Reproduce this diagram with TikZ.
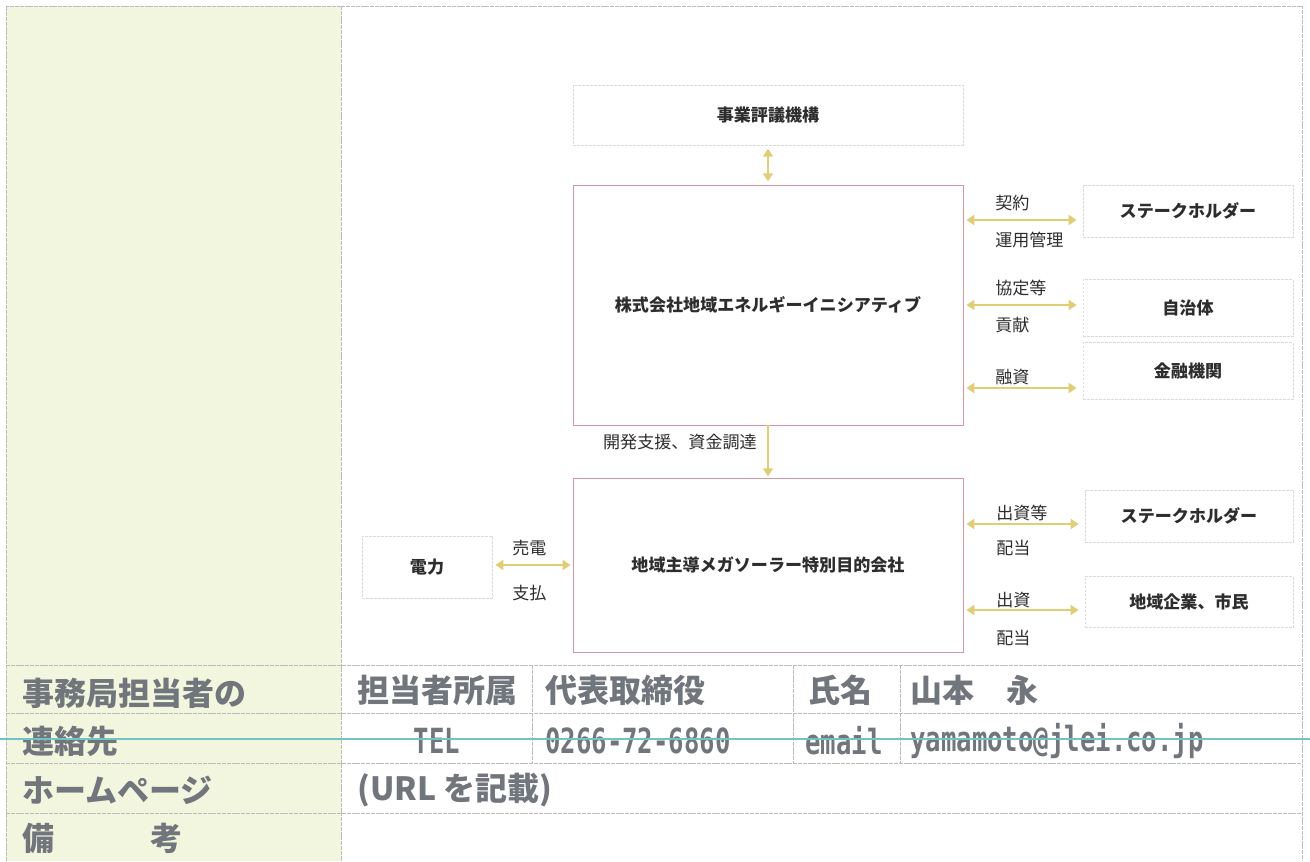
\documentclass[tikz,border=0pt]{standalone}
\usepackage{fontspec}
\setmainfont{Noto Sans CJK JP}
\newfontfamily\halfmono{DejaVu Sans Mono}[FakeStretch=0.74]
\usepackage{tikz}
\usetikzlibrary{calc,arrows.meta}
\definecolor{diagtext}{RGB}{45,45,45}
\definecolor{celltext}{RGB}{112,118,124}
\definecolor{arrowc}{RGB}{224,206,118}
\definecolor{mainline}{RGB}{214,150,162}
\definecolor{boxline}{RGB}{218,218,218}
\definecolor{tblline}{RGB}{188,188,188}
\definecolor{leftfill}{RGB}{243,246,222}
\definecolor{scanteal}{RGB}{112,196,196}
\tikzset{
box/.style={draw=boxline, line width=0.6pt, dash pattern=on 2pt off 1pt, inner sep=0pt, text=diagtext, font=\fontsize{12.8}{15}\selectfont\bfseries}, % side boxes
mainbox/.style={box, draw=mainline, solid}, % the two company boxes
lbl/.style={anchor=west, inner sep=0pt, text=diagtext, font=\fontsize{12.8}{15}\selectfont}, % arrow texts
link/.style={draw=arrowc, line width=2pt, {Triangle[width=7.5pt,length=6pt]}-{Triangle[width=7.5pt,length=6pt]}},
onelink/.style={draw=arrowc, line width=2pt, -{Triangle[width=7.5pt,length=6pt]}},
}
\tikzset{
    cell/.style={anchor=west, inner sep=0pt, text=celltext, font=\fontsize{24}{28}\selectfont\bfseries},
    monocell/.style={cell, font=\fontsize{26}{30}\selectfont\halfmono\bfseries},
    tblrule/.style={draw=tblline, line width=0.7pt, dash pattern=on 3pt off 0.6pt}
}
\begin{document}
\begin{tikzpicture}[x=0.75pt,y=0.75pt,yscale=-1,xscale=1]
		\useasboundingbox (0,0) rectangle (1310,861);
		
		% Table
		\fill [leftfill] (6,6) rectangle (341,861);
		\draw [tblrule] (6,861) -- (6,6) -- (1302,6) -- (1302,861);
		\draw [tblrule] (341,6) -- (341,861);
		\foreach \y in {665,713,763,813}
		\draw [tblrule] (6,\y) -- (1302,\y);
		\foreach \x in {532,793,900}
		\draw [tblrule] (\x,665) -- (\x,763);
		
		% Text Node
		\node [box] (hyougi) at (768,115) [minimum width=292.5pt, minimum height=45pt] {事業評議機構};
		% Text Node
		\node [mainbox] (jlei) at (768,305) [minimum width=292.5pt, minimum height=180pt] {株式会社地域エネルギーイニシアティブ};
		% Text Node
		\node [mainbox] (spc) at (768,565) [minimum width=292.5pt, minimum height=130.5pt] {地域主導メガソーラー特別目的会社};
		% Text Node
		\node [box] (denryoku) at (427,567) [minimum width=97.5pt, minimum height=46.5pt] {電力};
		% Text Node
		\node [box] (stake1) at (1188,211) [minimum width=157.5pt, minimum height=39pt] {ステークホルダー};
		% Text Node
		\node [box] (jichitai) at (1188,308) [minimum width=157.5pt, minimum height=42.75pt] {自治体};
		% Text Node
		\node [box] (kinyu) at (1188,371) [minimum width=157.5pt, minimum height=42.75pt] {金融機関};
		% Text Node
		\node [box] (stake2) at (1189,516) [minimum width=156pt, minimum height=39pt] {ステークホルダー};
		% Text Node
		\node [box] (shimin) at (1189,602) [minimum width=156pt, minimum height=38.25pt] {地域企業、市民};
		
		% Text Node
		\node [lbl] (keiyaku) at (995,203) {契約};
		\node [lbl] (unyou) at (995,240) {運用管理};
		\node [lbl] (kyoutei) at (995,288) {協定等};
		\node [lbl] (kouken) at (995,325) {貢献};
		\node [lbl] (yuushi) at (995,377) {融資};
		\node [lbl] (shusshi1) at (996,513) {出資等};
		\node [lbl] (haitou1) at (996,548) {配当};
		\node [lbl] (shusshi2) at (996,600) {出資};
		\node [lbl] (haitou2) at (996,638) {配当};
		\node [lbl] (baiden) at (512,548) {売電};
		\node [lbl] (shiharai) at (512,593) {支払};
		\node [lbl, anchor=east] (kaihatsu) at (757,442) {開発支援、資金調達};
		
		% Connection
		\draw [link, shorten <=2.5pt, shorten >=2.5pt] (hyougi.south) -- (jlei.north);
		% Connection
		\draw [onelink, shorten >=1pt] (jlei.south) -- (spc.north);
		% Connection
		\draw [link] ($(jlei.east)+(3,-85)$) -- ($(stake1.west)+(-6,9)$);
		% Connection
		\draw [link] ($(jlei.east)+(3,0)$) -- ($(jichitai.west)+(-6,-3)$);
		% Connection
		\draw [link] ($(jlei.east)+(3,83)$) -- ($(kinyu.west)+(-6,17)$);
		% Connection
		\draw [link] ($(spc.east)+(3,-41)$) -- ($(stake2.west)+(-6,8)$);
		% Connection
		\draw [link] ($(spc.east)+(3,45)$) -- ($(shimin.west)+(-6,8)$);
		% Connection
		\draw [link] ($(denryoku.east |- spc.west)+(3,0)$) -- ($(spc.west)+(-2,0)$);
		
		% Text Node
		\node [cell] (jimu) at (22,693) {事務局担当者の};
		\node [cell] (renraku) at (22,741) {連絡先};
		\node [cell] (homepage) at (22,790) {ホームページ};
		\node [cell] (bikou) at (22,838) {備　　　考};
		\node [cell, anchor=center] (shozoku) at (437,690) {担当者所属};
		\node [cell] (yakushoku) at (545,690) {代表取締役};
		\node [cell] (shimei) at (808,690) {氏名};
		\node [cell] (namae) at (910,690) {山本　永};
		\node [monocell, anchor=center] (tel) at (437,741) {TEL};
		\node [monocell] (telno) at (545,741) {0266-72-6860};
		\node [monocell] (email) at (805,741) {email};
		\node [monocell] (address) at (910,741) {yamamoto@jlei.co.jp};
		\node [cell] (url) at (357,790) {(URL を記載)};
		
		% scan line
		\draw [scanteal, line width=1.1pt] (0,739) -- (1310,739);
		
\end{tikzpicture}
\end{document}
